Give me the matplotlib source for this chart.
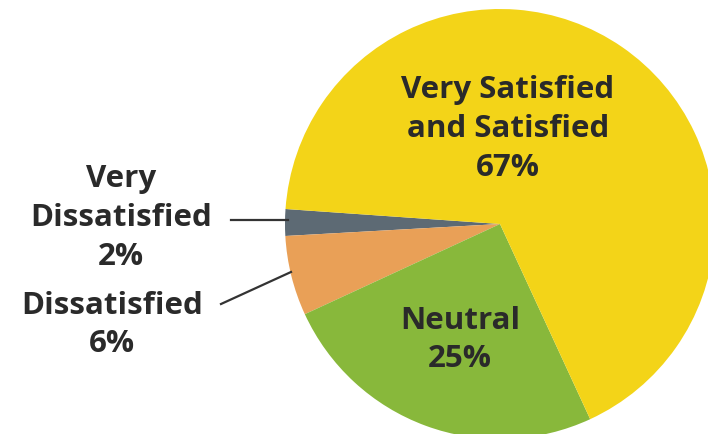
import matplotlib.pyplot as plt

plt.rcParams['font.family'] = ['Open Sans', 'DejaVu Sans']

# slices, counter-clockwise starting at the grey one
labels = ["Very\nDissatisfied", "Dissatisfied", "Neutral", "Very Satisfied\nand Satisfied"]
shares = [2, 6, 25, 67]
colors = ["#5d6a74", "#e9a057", "#88b83b", "#f3d418"]

W, H = 708, 435
fig = plt.figure(figsize=(W / 100, H / 100), dpi=100)
ax = fig.add_axes([0, 0, 1, 1])

ax.pie(shares, colors=colors, startangle=176, counterclock=True,
       center=(500, H - 225), radius=215, frame=True,
       wedgeprops=dict(linewidth=0))
ax.set_xlim(0, W)
ax.set_ylim(0, H)
ax.set_aspect('equal')
ax.axis('off')

txt = dict(fontsize=22.5, fontweight='bold', color='#2a2a2a',
           ha='center', va='center', linespacing=1.38)

# label positions in pixels (x, y from top)
pos = [(121, 218), (112, 325), (460, 340), (508, 129)]
for lab, val, (x, y) in zip(labels, shares, pos):
    ax.text(x, H - y, f"{lab}\n{val}%", **txt)

# leader lines
ax.plot([231, 288], [H - 221, H - 221], color='#333333', lw=1.6)
ax.plot([221, 291], [H - 305, H - 273], color='#333333', lw=1.6)

fig.savefig("out.png", dpi=100)
